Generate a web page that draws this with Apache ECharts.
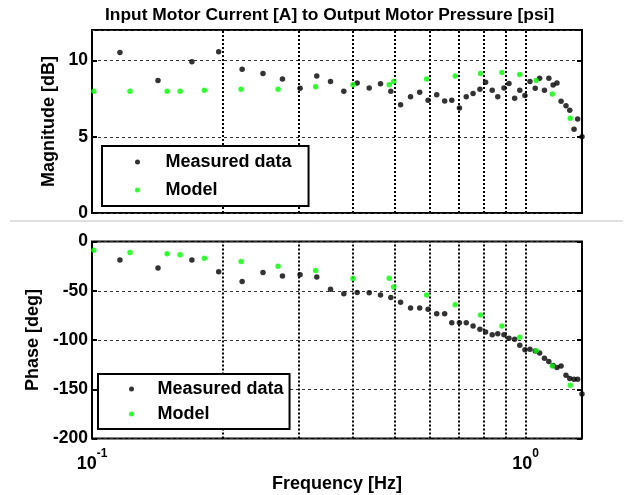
<!DOCTYPE html>
<html>
<head>
<meta charset="utf-8">
<script src="https://cdn.jsdelivr.net/npm/echarts@6/dist/echarts.min.js"></script>
<style>
html, body { margin:0; padding:0; background:#fff; }
#chart { width:633px; height:495px; }
</style>
</head>
<body>
<div id="chart"></div>
<script>
// measured data (frequency in Hz, magnitude in dB, phase in deg)
var measFreq = [0.116, 0.142, 0.170, 0.196, 0.222, 0.248, 0.275, 0.302, 0.330, 0.355,
                0.381, 0.409, 0.436, 0.463, 0.489, 0.515, 0.543, 0.570, 0.596, 0.624,
                0.651, 0.676, 0.704, 0.730, 0.757, 0.785, 0.809, 0.838, 0.863, 0.892,
                0.916, 0.944, 0.970, 0.997, 1.024, 1.053, 1.078, 1.106, 1.132, 1.158,
                1.182, 1.208, 1.240, 1.265, 1.294, 1.319, 1.350];
var measMag = [10.52, 8.69, 9.91, 10.58, 9.42, 9.14, 8.78, 8.18, 8.99, 8.63,
               7.99, 8.52, 8.20, 8.48, 7.98, 7.10, 7.62, 7.92, 7.40, 7.75,
               7.34, 7.40, 6.89, 7.62, 7.83, 8.11, 8.58, 8.05, 7.62, 8.20,
               8.50, 7.53, 8.05, 7.70, 8.63, 8.18, 8.84, 8.05, 8.84, 8.39,
               8.52, 7.32, 7.04, 6.74, 5.49, 6.16, 5.00];
var measPhase = [-18.9, -27.0, -18.9, -30.7, -40.5, -31.4, -35.1, -33.8, -36.1, -48.6,
                 -53.0, -51.7, -52.0, -54.4, -56.8, -61.8, -67.6, -67.6, -68.9, -73.3,
                 -73.3, -82.4, -82.4, -82.4, -85.8, -89.2, -91.9, -94.6, -93.6, -94.6,
                 -98.3, -99.3, -105.4, -109.8, -109.5, -111.1, -113.2, -118.6, -121.9, -126.0,
                 -128.0, -126.4, -135.8, -139.2, -139.9, -139.9, -154.7];

// model
var modelFreq = [0.101, 0.1224, 0.1491, 0.1597, 0.1816, 0.2208, 0.2687, 0.3280, 0.4000, 0.4850,
                 0.4965, 0.5916, 0.6885, 0.7873, 0.8822, 0.9698, 1.0583, 1.1530, 1.2685];
var modelMag = [7.98, 7.98, 7.98, 7.98, 8.05, 8.11, 8.11, 8.28, 8.41, 8.41,
                8.63, 8.78, 8.99, 9.14, 9.21, 9.08, 8.69, 7.81, 6.22];
var modelPhase = [-8.8, -11.1, -12.5, -13.5, -16.9, -20.3, -25.0, -29.4, -37.5, -37.2,
                  -46.3, -54.4, -64.2, -74.7, -85.8, -97.3, -110.8, -126.4, -145.9];

// vertical grid positions on the log axis
var gridFreqs = [0.2, 0.3, 0.4, 0.5, 0.6, 0.7, 0.8, 0.9, 1];

var FONT = 'Liberation Sans, Arial, sans-serif';

function pairs(xs, ys) {
    return xs.map(function (x, i) { return [x, ys[i]]; });
}

function vLines() {
    return {
        silent: true,
        z: 1,
        symbol: ['none', 'none'],
        label: { show: false },
        lineStyle: { color: '#000', type: [2, 2], width: 2 },
        data: gridFreqs.map(function (f) { return { xAxis: f }; })
    };
}

function xAx(idx, showLabels) {
    var ax = {
        gridIndex: idx, type: 'log', logBase: 10, min: 0.1, max: 1.35,
        axisLine: { show: false },
        axisTick: { show: false },
        splitLine: { show: false },
        axisLabel: { show: false }
    };
    if (showLabels) {
        ax.name = 'Frequency [Hz]';
        ax.nameLocation = 'middle';
        ax.nameGap = 37;
        ax.nameTextStyle = { fontFamily: FONT, fontWeight: 'bold', fontSize: 18, color: '#000' };
        ax.axisLabel = {
            show: true, margin: 9, showMaxLabel: false,
            formatter: function (v) {
                var l = Math.log10(v), e = Math.round(l);
                if (Math.abs(l - e) > 1e-6) return '';
                return '{a|10}{b|' + e + '}';
            },
            rich: {
                a: { fontFamily: FONT, fontWeight: 'bold', fontSize: 18, color: '#000', lineHeight: 26, verticalAlign: 'bottom' },
                b: { fontFamily: FONT, fontWeight: 'bold', fontSize: 12, color: '#000', lineHeight: 26, verticalAlign: 'top' }
            }
        };
    }
    return ax;
}

function yAx(idx, min, max, name, gap) {
    return {
        gridIndex: idx, type: 'value', min: min, max: max, interval: idx === 0 ? 5 : 50,
        name: name, nameLocation: 'middle', nameGap: gap,
        nameTextStyle: { fontFamily: FONT, fontWeight: 'bold', fontSize: 18, color: '#000' },
        axisLine: { show: false },
        axisTick: { inside: true, length: 5, lineStyle: { color: '#000', width: 2 } },
        axisLabel: { fontFamily: FONT, fontWeight: 'bold', fontSize: 17.5, color: '#000', margin: 4, showMaxLabel: idx !== 0 },
        splitLine: { show: true, lineStyle: { color: '#333', type: [3, 3], width: 1 } }
    };
}

function yAxRight(idx, min, max) {
    return {
        gridIndex: idx, type: 'value', position: 'right', min: min, max: max, interval: idx === 0 ? 5 : 50,
        axisLine: { show: false },
        axisTick: { inside: true, length: 5, lineStyle: { color: '#000', width: 2 } },
        axisLabel: { show: false },
        splitLine: { show: false }
    };
}

function legendAt(left, top, padding, gap, iw) {
    return {
        data: ['Measured data', 'Model'],
        orient: 'vertical', left: left, top: top,
        padding: padding, itemGap: gap,
        itemWidth: iw, itemHeight: 5, icon: 'circle',
        backgroundColor: '#fff', borderColor: '#000', borderWidth: 2,
        selectedMode: false,
        textStyle: { fontFamily: FONT, fontWeight: 'bold', fontSize: 18, color: '#000', lineHeight: 18 }
    };
}

var myChart = echarts.init(document.getElementById('chart'));
myChart.setOption({
    animation: false,
    backgroundColor: '#fff',
    title: {
        text: 'Input Motor Current [A] to Output Motor Pressure [psi]',
        left: 105, top: 7, padding: 0,
        textStyle: { fontFamily: FONT, fontWeight: 'bold', fontSize: 17.4, color: '#000' }
    },
    grid: [
        { left: 92, right: 51, top: 30, height: 183, show: true, borderColor: '#000', borderWidth: 2, backgroundColor: '#fff' },
        { left: 92, right: 51, top: 241.5, height: 197, show: true, borderColor: '#000', borderWidth: 2, backgroundColor: '#fff' }
    ],
    legend: [
        legendAt(102, 146, [7, 17, 7, 33], 10, 46),
        legendAt(98, 374, [6, 6, 6, 31], 7, 42)
    ],
    xAxis: [xAx(0, false), xAx(1, true)],
    yAxis: [
        yAx(0, 0, 12, 'Magnitude [dB]', 32),
        yAxRight(0, 0, 12),
        yAx(1, -200, 0, 'Phase [deg]', 46),
        yAxRight(1, -200, 0)
    ],
    series: [
        { type: 'scatter', name: 'Measured data', xAxisIndex: 0, yAxisIndex: 0, data: pairs(measFreq, measMag),
          symbolSize: 5.5, itemStyle: { color: '#000' }, markLine: vLines() },
        { type: 'scatter', name: 'Model', xAxisIndex: 0, yAxisIndex: 0, data: pairs(modelFreq, modelMag),
          symbolSize: 5.5, itemStyle: { color: '#00ff00' } },
        { type: 'scatter', name: 'Measured data', xAxisIndex: 1, yAxisIndex: 2, data: pairs(measFreq, measPhase),
          symbolSize: 5.5, itemStyle: { color: '#000' }, markLine: vLines() },
        { type: 'scatter', name: 'Model', xAxisIndex: 1, yAxisIndex: 2, data: pairs(modelFreq, modelPhase),
          symbolSize: 5.5, itemStyle: { color: '#00ff00' } }
    ],
    graphic: [
        { type: 'line', shape: { x1: 10, y1: 221, x2: 623, y2: 221 }, style: { stroke: '#c0c0c0', lineWidth: 1 }, silent: true }
    ]
});
</script>
</body>
</html>
